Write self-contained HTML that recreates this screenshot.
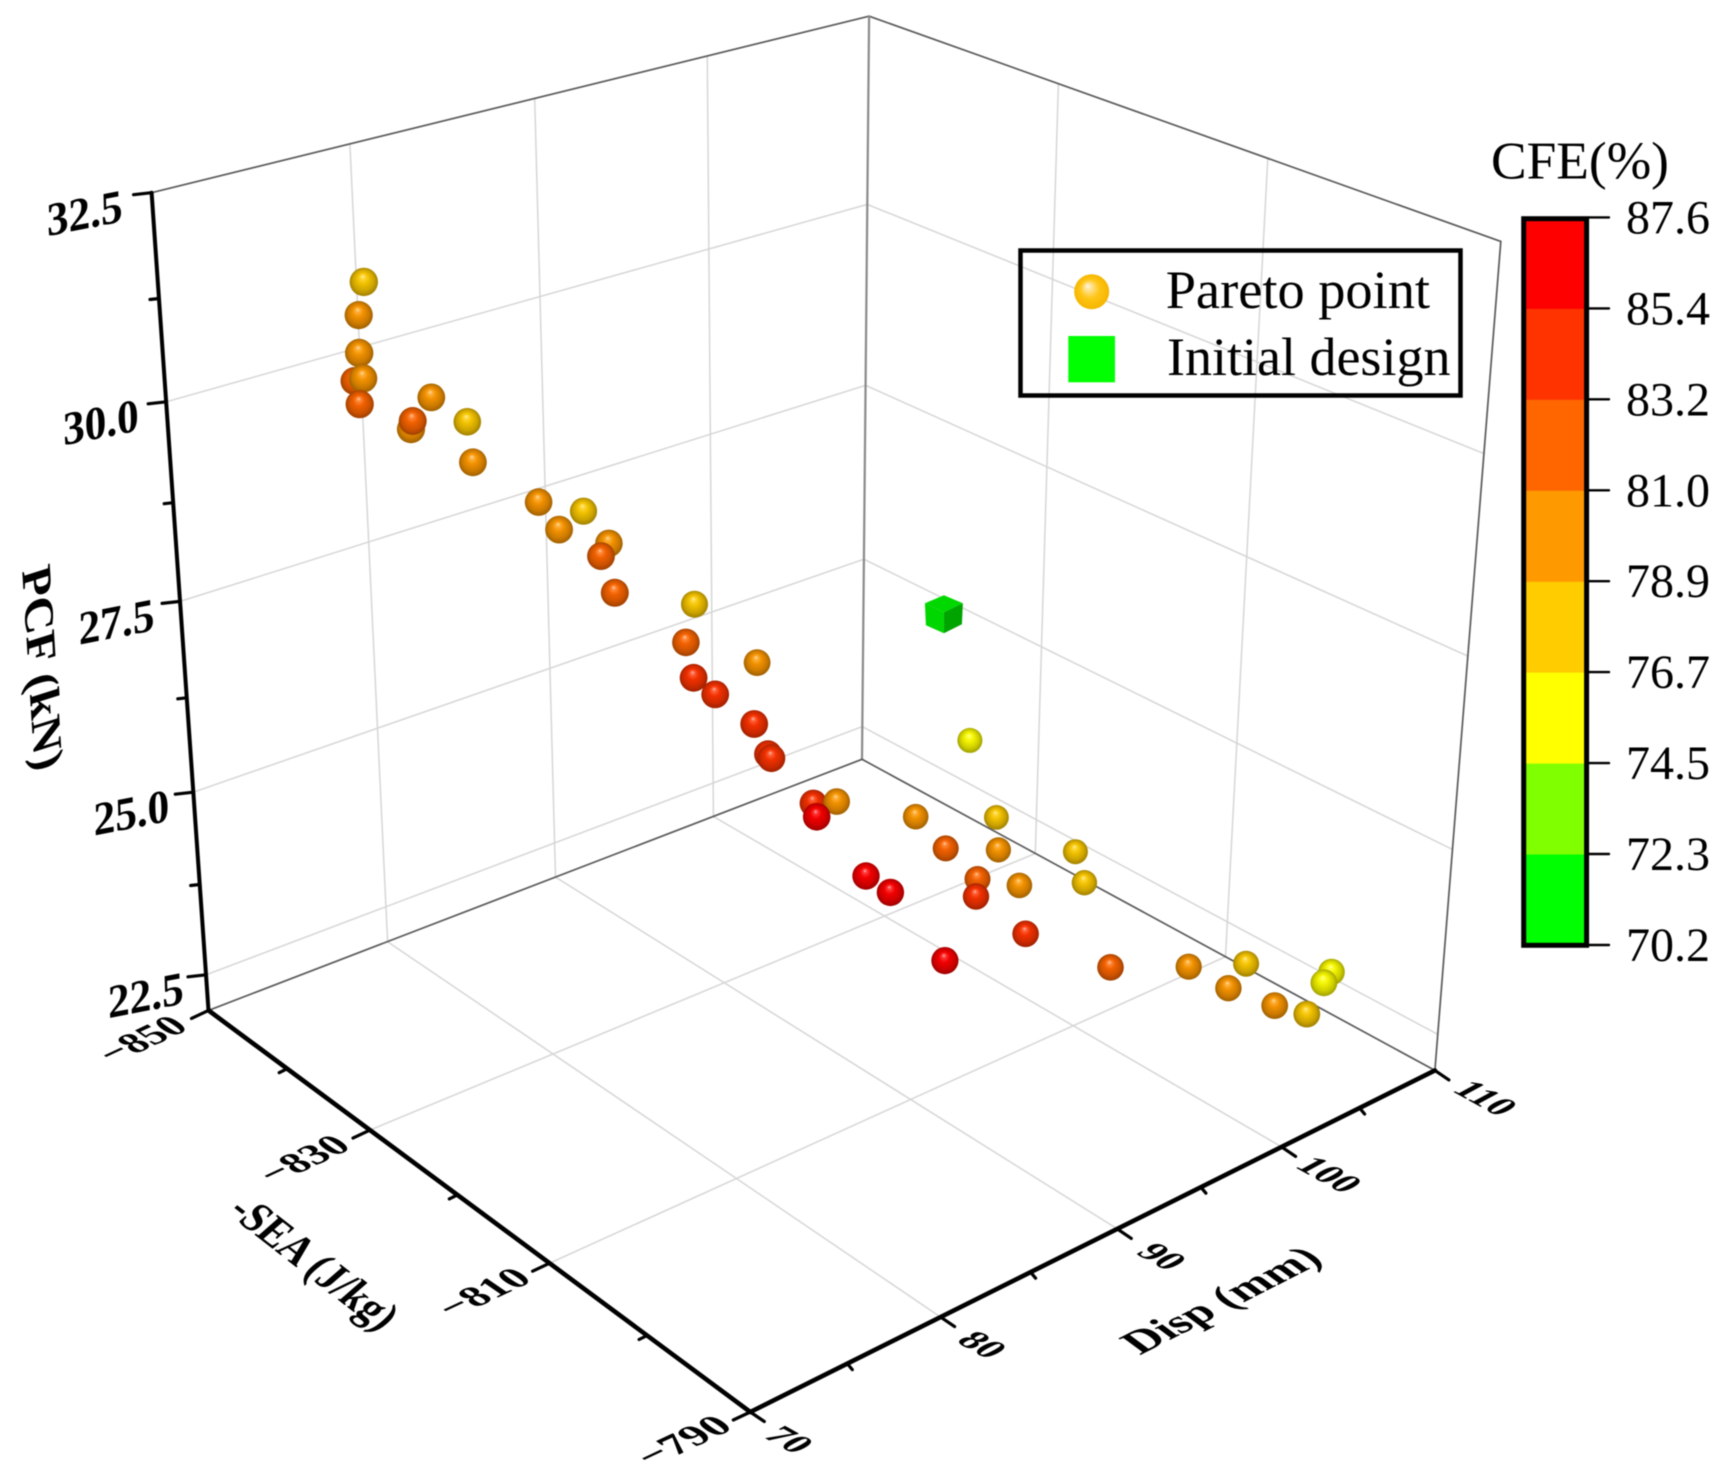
<!DOCTYPE html>
<html lang="en">
<head>
<meta charset="utf-8">
<title>Pareto front 3D scatter</title>
<style>
html,body{margin:0;padding:0;background:#fff;width:1730px;height:1482px;overflow:hidden}
svg{display:block;filter:blur(0.6px);font-family:"Liberation Serif",serif}
</style>
</head>
<body>
<svg id="chart" xmlns="http://www.w3.org/2000/svg" width="1730" height="1482" viewBox="0 0 1730 1482">
  <defs id="defs">
    <radialGradient id="legend-sphere-gradient" cx="0.5" cy="0.5" r="0.5" fx="0.38" fy="0.33">
      <stop offset="0" stop-color="#fff6e0"/>
      <stop offset="0.22" stop-color="#ffe08a"/>
      <stop offset="0.55" stop-color="#ffc515"/>
      <stop offset="1" stop-color="#f5b500"/>
    </radialGradient>
  </defs>
  <rect x="0" y="0" width="1730" height="1482" fill="#ffffff"/>
  <g id="grid"></g>
  <g id="frame"></g>
  <g id="axes"></g>
  <g id="marks"></g>
  <text transform="translate(42 668) matrix(.07 1.12 -.95 .3 0 0)" text-anchor="middle" dominant-baseline="central" font-size="44" font-weight="bold">PCF (kN)</text>
  <text transform="translate(314 1263) matrix(.77 .6 -.87 .76 0 0)" text-anchor="middle" dominant-baseline="central" font-size="40" font-weight="bold">-SEA (J/kg)</text>
  <text transform="translate(1221 1300) matrix(1.02 -.52 .85 .63 0 0)" text-anchor="middle" dominant-baseline="central" font-size="40" font-weight="bold">Disp (mm)</text>
  <g>
    <rect x="1020.5" y="250.5" width="440" height="145" fill="none" stroke="#000" stroke-width="4.5"/>
    <circle cx="1091.7" cy="291.7" r="17.5" fill="url(#legend-sphere-gradient)"/>
    <text x="1165.7" y="308" font-size="54.4">Pareto point</text>
    <rect x="1068.3" y="336" width="46.7" height="46.3" fill="#00ff00"/>
    <text x="1167" y="375" font-size="54">Initial design</text>
  </g>
  <g id="colorbar"></g>
  <text x="1491" y="178.6" font-size="53.4">CFE(%)</text>
</svg>
<script>
// ---- data ----
const dispValues = [77.79,77.45,76.87,77.59,76.49,76.77,78.31,78.95,80.51,81.83,80.95,83.29,86.33,83.21,85.33,84.29,83.81,89.49,86.48,91.83,85.64,86.21,87.76,87.89,87.43,89.84,93.93,89.37,90.92,91.68,100.25,107.39,99.68,104.96,108.62,99.92,98.37,103.77,106.95,98.57,93.6,101.75,106.11,109.16,106.32,109.33,107.95,105.6,106.47,106.6];
const seaValues = [-844,-844,-842.8,-845.2,-841.6,-842.8,-840.4,-841.6,-842.8,-841.6,-839.2,-836.8,-838,-834.4,-833.2,-832,-829.6,-832,-827.2,-829.6,-824.8,-823.6,-822.4,-821.2,-820,-820,-824.8,-818.8,-816.4,-815.2,-827.2,-830.2,-823,-826,-823.6,-820,-817.6,-821.8,-820,-812.8,-812.8,-809.2,-808,-806.8,-804.4,-799,-797.8,-799,-797.2,-832];
const pcfValues = [31.26,30.88,30.52,30.0,30.3,29.9,29.62,29.61,29.73,29.4,29.09,28.56,28.15,28.36,28.1,28.09,27.81,27.07,27.12,26.27,26.89,26.71,26.28,25.96,26.03,25.23,24.55,25.18,24.43,24.23,23.61,22.75,23.52,22.8,22.62,23.29,23.37,22.71,22.59,23.2,23.31,22.71,22.39,22.23,22.35,22.71,22.79,22.61,22.55,23.81];
const cfeValues = [77,79.5,79.5,81.5,79.5,82,80,82.5,79.5,77,79.5,79.5,77.5,79.8,80,82,82,77,82,79,84,84.5,84.5,83.5,83.5,84.5,80,86.5,86.5,87,79.5,77,82,79.5,77,82.5,84.5,79.5,77,84.5,87,82,79.5,77.5,79.5,75.5,75.5,79.5,77.5,75.5];
const initialDisp = [104.72];
const initialSea = [-832];
const initialPcf = [25.745];
const pcfMajorTicks = [22.5,25,27.5,30,32.5];
const pcfTickLabels = ["22.5","25.0","27.5","30.0","32.5"];
const pcfMinorTicks = [23.75,26.25,28.75,31.25];
const seaMajorTicks = [-850,-830,-810,-790];
const seaTickLabels = ["\u2212850","\u2212830","\u2212810","\u2212790"];
const seaMinorTicks = [-840,-820,-800];
const dispMajorTicks = [70,80,90,100,110];
const dispTickLabels = ["70","80","90","100","110"];
const dispMinorTicks = [75,85,95,105];
const cfeTickValues = [70.2,72.3,74.5,76.7,78.9,81.0,83.2,85.4,87.6];
const cfeTickLabels = ["70.2","72.3","74.5","76.7","78.9","81.0","83.2","85.4","87.6"];
const cfeBandColors = ["#00ff00","#80ff00","#ffff00","#ffcc00","#ff9900","#ff6600","#ff3300","#ff0000"];

// ---- axis functions ----
const DISP_MIN = 70, DISP_MAX = 110, SEA_MIN = -850, SEA_MAX = -790, PCF_MIN = 22, PCF_MAX = 32.5;
function uOf(d){ return (d - DISP_MIN) / (DISP_MAX - DISP_MIN); }
function vOf(s){ return (s - SEA_MIN) / (SEA_MAX - SEA_MIN); }
function wOf(p){ return (p - PCF_MIN) / (PCF_MAX - PCF_MIN); }
function denominator(u, v, w){ return 1 + 0.13167*u - 0.15065*v - 0.09*w; }
function project(disp, sea, pcf){
  const u = uOf(disp), v = vOf(sea), w = wOf(pcf);
  const d = denominator(u, v, w);
  const x = (208.5 + 770.4*u + 428.8*v - 70.5*w) / d - 3*u*(1-v);
  const y = (1010.4 - 149.2*u + 188.9*v - 835*w) / d - 9*u*w*(1-v) - 1.7*u*(1-v)*(1-w);
  return [x, y];
}
function cfeBandIndex(c){
  for (let i = 0; i < cfeBandColors.length; i++) {
    if (c < cfeTickValues[i+1]) return Math.max(i, 0);
  }
  return cfeBandColors.length - 1;
}
function cfeTickY(i){
  const n = cfeTickLabels.length - 1;
  return 945 - (945 - 217.4) * i / n;
}

// ---- drawing helpers ----
const NS = "http://www.w3.org/2000/svg";
function make(tag, attrs, parent){
  const el = document.createElementNS(NS, tag);
  for (const k in attrs) el.setAttribute(k, attrs[k]);
  parent.appendChild(el);
  return el;
}
function shade(hex, f){
  const n = parseInt(hex.slice(1), 16);
  const ch = [(n>>16)&255, (n>>8)&255, n&255].map(c => {
    const out = f <= 1 ? c*f : c + (255-c)*(f-1);
    return Math.round(out);
  });
  return "rgb(" + ch.join(",") + ")";
}
function seg(parent, a, b, stroke, width, name){
  const el = make("line", {x1:a[0].toFixed(1), y1:a[1].toFixed(1), x2:b[0].toFixed(1), y2:b[1].toFixed(1), stroke:stroke, "stroke-width":width, "stroke-linecap":"round"}, parent);
  
  
  return el;
}

const gridG = document.getElementById("grid");
const frameG = document.getElementById("frame");
const axesG = document.getElementById("axes");
const marksG = document.getElementById("marks");
const barG = document.getElementById("colorbar");
const defs = document.getElementById("defs");
const GRID = "#d6d6d6", GW = 1.5, FRAME = "#5a5a5a", FW = 1.7;

// grid lines
dispMajorTicks.slice(1, -1).forEach(d => {
  seg(gridG, project(d, SEA_MIN, PCF_MIN), project(d, SEA_MAX, PCF_MIN), GRID, GW, 'floor-grid-disp');
  seg(gridG, project(d, SEA_MIN, PCF_MIN), project(d, SEA_MIN, PCF_MAX), GRID, GW, 'back-wall-grid-disp');
});
seaMajorTicks.slice(1, -1).forEach(s => {
  seg(gridG, project(DISP_MIN, s, PCF_MIN), project(DISP_MAX, s, PCF_MIN), GRID, GW, 'floor-grid-sea');
  seg(gridG, project(DISP_MAX, s, PCF_MIN), project(DISP_MAX, s, PCF_MAX), GRID, GW, 'side-wall-grid-sea');
});
pcfMajorTicks.slice(0, -1).forEach(p => {
  seg(gridG, project(DISP_MIN, SEA_MIN, p), project(DISP_MAX, SEA_MIN, p), GRID, GW, 'back-wall-grid-pcf');
  seg(gridG, project(DISP_MAX, SEA_MIN, p), project(DISP_MAX, SEA_MAX, p), GRID, GW, 'side-wall-grid-pcf');
});

// thin frame lines
seg(frameG, project(DISP_MIN,SEA_MIN,PCF_MAX), project(DISP_MAX,SEA_MIN,PCF_MAX), FRAME, FW, 'frame-top-back');
seg(frameG, project(DISP_MAX,SEA_MIN,PCF_MAX), project(DISP_MAX,SEA_MAX,PCF_MAX), FRAME, FW, 'frame-top-side');
seg(frameG, project(DISP_MAX,SEA_MAX,PCF_MAX), project(DISP_MAX,SEA_MAX,PCF_MIN), FRAME, FW, 'frame-right-edge');
seg(frameG, project(DISP_MAX,SEA_MIN,PCF_MAX), project(DISP_MAX,SEA_MIN,PCF_MIN), "#8a8a8a", 2.2, 'frame-back-edge');
seg(frameG, project(DISP_MIN,SEA_MIN,PCF_MIN), project(DISP_MAX,SEA_MIN,PCF_MIN), FRAME, FW, 'frame-floor-back');
seg(frameG, project(DISP_MAX,SEA_MIN,PCF_MIN), project(DISP_MAX,SEA_MAX,PCF_MIN), FRAME, FW, 'frame-floor-side');

// main axes
seg(axesG, project(DISP_MIN,SEA_MIN,PCF_MAX), project(DISP_MIN,SEA_MIN,PCF_MIN), "#000", 4, 'pcf-axis-line');
seg(axesG, project(DISP_MIN,SEA_MIN,PCF_MIN), project(DISP_MIN,SEA_MAX,PCF_MIN), "#000", 4.6, 'sea-axis-line');
seg(axesG, project(DISP_MIN,SEA_MAX,PCF_MIN), project(DISP_MAX,SEA_MAX,PCF_MIN), "#000", 4.6, 'disp-axis-line');

function tickMark(p, dx, dy, name){
  seg(axesG, p, [p[0]+dx, p[1]+dy], "#000", 3.2, name);
}
function tickLabel(p, dx, dy, m, size, str, name){
  const t = make("text", {transform:"translate(" + (p[0]+dx).toFixed(1) + " " + (p[1]+dy).toFixed(1) + ") matrix(" + m.join(" ") + " 0 0)", "text-anchor":"middle", "dominant-baseline":"central", "font-size":size, "font-weight":"bold"}, axesG);
  t.textContent = str;
  
  
}

pcfMajorTicks.forEach((p, i) => {
  const q = project(DISP_MIN, SEA_MIN, p);
  tickMark(q, -18, 2, 'pcf-major-tick');
  tickLabel(q, -67 + 7*(1 - wOf(p)), 20, [0.92,-0.18,0.03,1], 47, pcfTickLabels[i], 'pcf-tick-label');
});
pcfMinorTicks.forEach(p => tickMark(project(DISP_MIN, SEA_MIN, p), -9, 1, 'pcf-minor-tick'));

seaMajorTicks.forEach((s, i) => {
  const q = project(DISP_MIN, s, PCF_MIN);
  const k = 1.14 + 0.1*i/3;
  tickMark(q, -17, 8, 'sea-major-tick');
  tickLabel(q, -67, 29, [0.81*k,-0.38*k,0.8,0.55], 40, seaTickLabels[i], 'sea-tick-label');
});
seaMinorTicks.forEach(s => tickMark(project(DISP_MIN, s, PCF_MIN), -8, 4, 'sea-minor-tick'));

dispMajorTicks.forEach((d, i) => {
  const q = project(d, SEA_MAX, PCF_MIN);
  tickMark(q, 14, 9.5, 'disp-major-tick');
  tickLabel(q, 38 + 12*uOf(d), 28, [0.83,0.46,-0.82,0.44], 40, dispTickLabels[i], 'disp-tick-label');
});
dispMinorTicks.forEach(d => tickMark(project(d, SEA_MAX, PCF_MIN), 5, 6, 'disp-minor-tick'));

// sphere gradients per colour band
cfeBandColors.forEach((c, i) => {
  const g = make("radialGradient", {id:"sphere-" + i, cx:0.5, cy:0.5, r:0.52, fx:0.46, fy:0.3}, defs);
  [[0,1.7],[0.14,1.22],[0.38,0.94],[0.72,0.8],[0.92,0.66],[1,0.6]].forEach(s => {
    make("stop", {offset:s[0], "stop-color":shade(c, s[1])}, g);
  });
});

// scatter spheres
dispValues.forEach((d, i) => {
  const p = project(d, seaValues[i], pcfValues[i]);
  const depth = denominator(uOf(d), vOf(seaValues[i]), wOf(pcfValues[i]));
  const c = make("circle", {cx:p[0].toFixed(1), cy:p[1].toFixed(1), r:(13.2/depth).toFixed(1), fill:"url(#sphere-" + cfeBandIndex(cfeValues[i]) + ")"}, marksG);
  
  
});

// initial design cube
initialDisp.forEach((d, i) => {
  const p = project(d, initialSea[i], initialPcf[i]);
  const group = make("g", {transform:"translate(" + p[0].toFixed(1) + " " + p[1].toFixed(1) + ")"}, marksG);
  
  
  make("polygon", {points:"0,-19 19,-11 0,-2 -19,-11", fill:"#00d800"}, group);
  make("polygon", {points:"-19,-11 0,-2 0,19 -18,11", fill:"#00d600"}, group);
  make("polygon", {points:"19,-11 0,-2 0,19 18,10", fill:"#00a400"}, group);
});

// colour bar
cfeBandColors.forEach((c, i) => {
  const top = cfeTickY(i+1), bottom = cfeTickY(i);
  const r = make("rect", {x:1523.7, y:top.toFixed(1), width:62.9, height:(bottom-top+0.5).toFixed(1), fill:c}, barG);
  
  
});
const barBorder = make("rect", {x:1523.7, y:218.7, width:62.9, height:726.6, fill:"none", stroke:"#000", "stroke-width":5}, barG);


cfeTickLabels.forEach((lab, i) => {
  const y = cfeTickY(i);
  seg(barG, [1589, y], [1609, y], "#000", 2.4, 'colorbar-tick');
  const t = make("text", {x:1626, y:(y+16).toFixed(1), "font-size":48}, barG);
  t.textContent = lab;
  
  
});
</script>
</body>
</html>
